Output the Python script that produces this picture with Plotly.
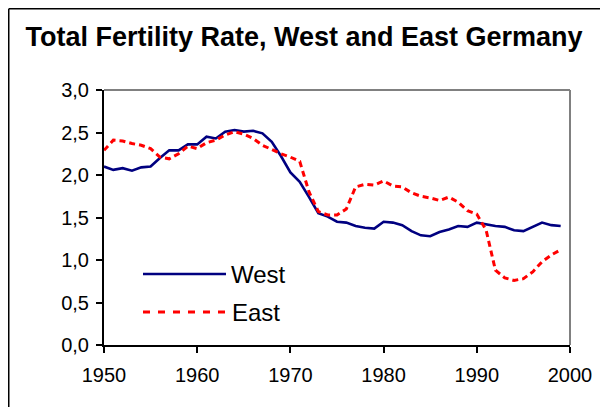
import plotly.graph_objects as go

years = list(range(1950, 2000))
west = [2.10, 2.06, 2.08, 2.05, 2.09, 2.10, 2.20, 2.29, 2.29, 2.36,
        2.36, 2.45, 2.43, 2.51, 2.53, 2.51, 2.52, 2.49, 2.39, 2.22,
        2.03, 1.92, 1.74, 1.55, 1.51, 1.45, 1.44, 1.40, 1.38, 1.37,
        1.45, 1.44, 1.41, 1.34, 1.29, 1.28, 1.33, 1.36, 1.40, 1.39,
        1.44, 1.42, 1.40, 1.39, 1.35, 1.34, 1.39, 1.44, 1.41, 1.40]
east = [2.29, 2.41, 2.40, 2.37, 2.35, 2.31, 2.21, 2.19, 2.25, 2.34,
        2.31, 2.38, 2.41, 2.47, 2.51, 2.48, 2.43, 2.35, 2.30, 2.25,
        2.21, 2.16, 1.80, 1.57, 1.53, 1.53, 1.60, 1.86, 1.89, 1.88,
        1.93, 1.87, 1.86, 1.79, 1.75, 1.73, 1.70, 1.74, 1.68, 1.58,
        1.54, 1.35, 0.88, 0.79, 0.76, 0.78, 0.86, 0.98, 1.06, 1.12]
x_ticks = [1950, 1960, 1970, 1980, 1990, 2000]
y_ticks = [0.0, 0.5, 1.0, 1.5, 2.0, 2.5, 3.0]
series_names = ["West", "East"]
title_text = "Total Fertility Rate, West and East Germany"

FONT = "Liberation Sans, Arial, sans-serif"
WEST_COLOR = "#000080"
EAST_COLOR = "#FF0000"

fig = go.Figure()
fig.add_trace(go.Scatter(x=years, y=west, mode="lines", name=series_names[0],
                         line=dict(color=WEST_COLOR, width=2.6), showlegend=False))
fig.add_trace(go.Scatter(x=years, y=east, mode="lines", name=series_names[1],
                         line=dict(color=EAST_COLOR, width=3, dash="6px,4px"), showlegend=False))

# page body has an 8px margin: figure pixel = screen pixel - 8
OFF = 8
W, H = 608, 407
L, R, T, B = 104 - OFF, W - (570 - OFF), 90 - OFF, H - (345 - OFF)
pw, ph = W - L - R, H - T - B

def px_x(sx):
    return (sx - OFF - L) / pw

def px_y(sy):
    return (H - B - (sy - OFF)) / ph

shapes = [
    # plot area top and right border (grey)
    dict(type="line", xref="paper", yref="paper", x0=0, x1=1, y0=1, y1=1,
         line=dict(color="#808080", width=2)),
    dict(type="line", xref="paper", yref="paper", x0=1, x1=1, y0=0, y1=1,
         line=dict(color="#808080", width=2)),
    # chart outer border
    dict(type="line", xref="paper", yref="paper", x0=px_x(8.75), x1=px_x(8.75),
         y0=px_y(8.75), y1=px_y(430), line=dict(color="black", width=1.5)),
    dict(type="line", xref="paper", yref="paper", x0=px_x(8.75), x1=px_x(640),
         y0=px_y(8.75), y1=px_y(8.75), line=dict(color="black", width=1.5)),
    # legend samples
    dict(type="line", xref="paper", yref="paper", x0=px_x(143), x1=px_x(226),
         y0=px_y(274), y1=px_y(274), line=dict(color=WEST_COLOR, width=2.6)),
    dict(type="line", xref="paper", yref="paper", x0=px_x(143), x1=px_x(226),
         y0=px_y(312), y1=px_y(312), line=dict(color=EAST_COLOR, width=3, dash="7px,8px")),
]

annotations = [
    dict(text=series_names[0], xref="paper", yref="paper", x=px_x(229), y=px_y(274),
         xanchor="left", yanchor="middle", showarrow=False,
         font=dict(family=FONT, size=24, color="black")),
    dict(text=series_names[1], xref="paper", yref="paper", x=px_x(230), y=px_y(312),
         xanchor="left", yanchor="middle", showarrow=False,
         font=dict(family=FONT, size=24, color="black")),
]

fig.update_layout(
    width=W, height=H,
    margin=dict(l=L, r=R, t=T, b=B),
    paper_bgcolor="white", plot_bgcolor="white",
    separators=",.",
    title=dict(text="<b>" + title_text + "</b>", x=(304 - OFF) / W, xref="container",
               xanchor="center", y=1 - (37 - OFF) / H, yref="container", yanchor="middle",
               font=dict(family=FONT, size=27, color="black")),
    font=dict(family=FONT, size=20, color="black"),
    shapes=shapes,
    annotations=annotations,
    showlegend=False,
)
fig.update_xaxes(range=[1950, 2000], tickvals=x_ticks, ticktext=[str(v) for v in x_ticks],
                 showgrid=False, zeroline=False, showline=True, linecolor="black", linewidth=2,
                 ticks="outside", ticklen=6, tickwidth=2, tickcolor="black",
                 ticklabelstandoff=5,
                 tickfont=dict(family=FONT, size=20, color="black"))
fig.update_yaxes(range=[0, 3], tickvals=y_ticks, tickformat=".1f",
                 showgrid=False, zeroline=False, showline=True, linecolor="black", linewidth=2,
                 ticks="outside", ticklen=6, tickwidth=2, tickcolor="black",
                 ticklabelstandoff=3,
                 tickfont=dict(family=FONT, size=20, color="black"))

fig.write_html("out.html")
